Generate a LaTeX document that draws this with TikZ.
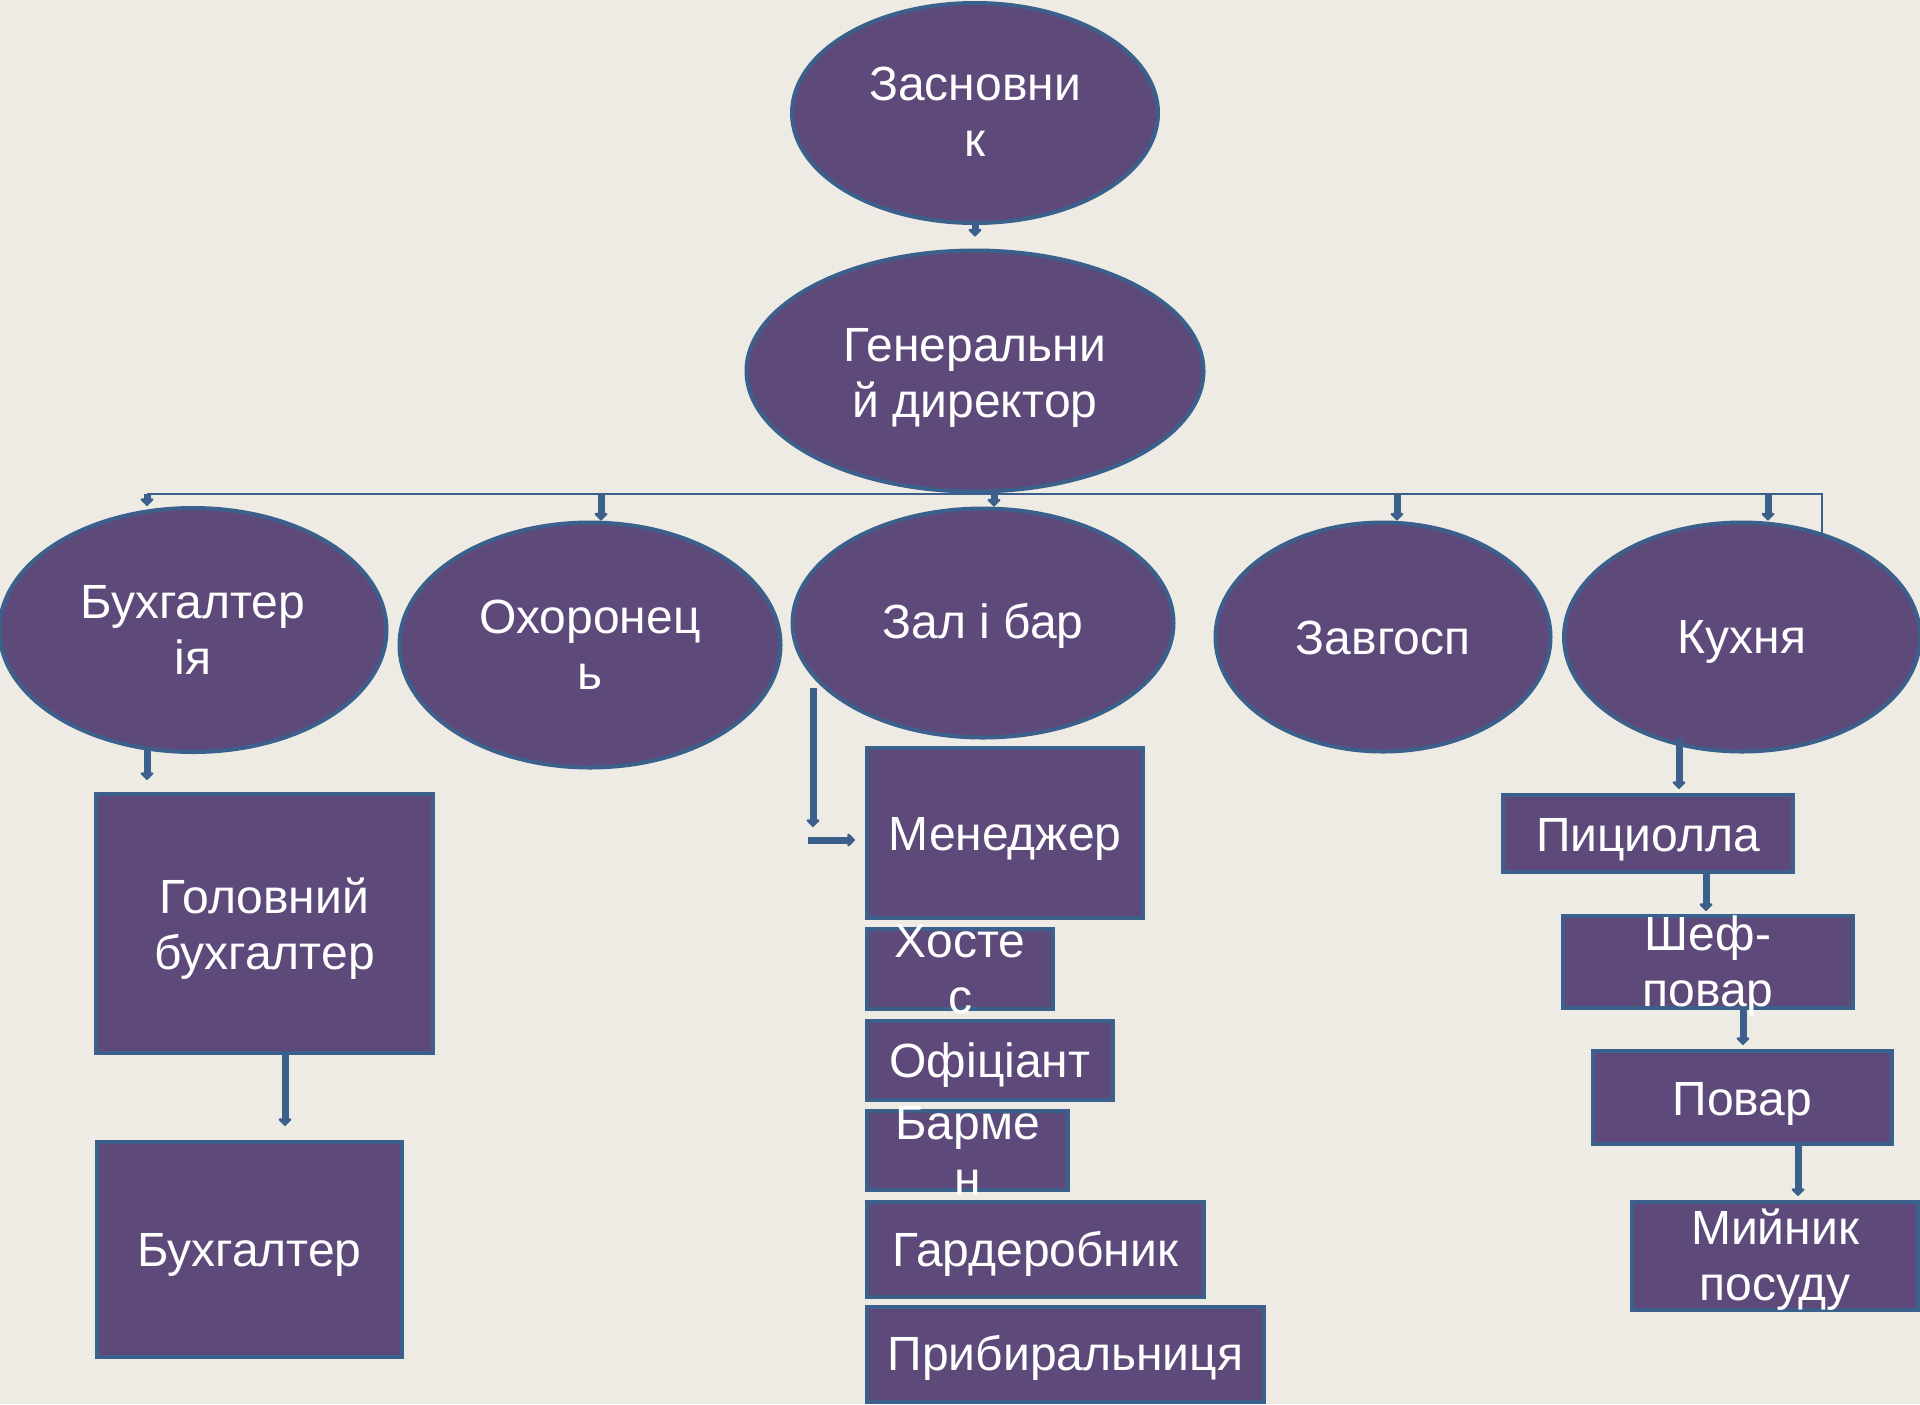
\documentclass[tikz,border=0pt]{standalone}
\usepackage{fontspec}
\setmainfont{Liberation Sans}
\usetikzlibrary{shapes.geometric,arrows.meta}

\definecolor{orgfill}{RGB}{94,74,122}
\definecolor{orgline}{RGB}{59,96,140}
\definecolor{paper}{RGB}{238,235,229}

\tikzset{
	unit/.style={ellipse,draw=orgline,line width=2pt,fill=orgfill,inner sep=0pt},
	post/.style={rectangle,draw=orgline,line width=2pt,fill=orgfill,inner sep=0pt},
	tag/.style={text=white,inner sep=0pt,align=center,font=\fontsize{24}{28}\selectfont},
	link/.style={draw=orgline,line width=3.5pt,-{Triangle[length=4pt,width=7.5pt,round]}},
	busline/.style={draw=orgline,line width=1pt}
}

\begin{document}
\begin{tikzpicture}[x=0.5pt,y=-0.5pt]
	\useasboundingbox (0,0) rectangle (1920,1404);
	\fill[paper] (0,0) rectangle (1920,1404);

	%Ellipses top
	\node[unit,minimum width=183pt,minimum height=110pt,label={[tag,yshift=0.5pt]center:Засновни\\к}] (zasn) at (975,113) {};
	\node[unit,minimum width=228.5pt,minimum height=120.5pt,label={[tag,yshift=-3.7pt]center:Генеральни\\й директор}] (gendir) at (975,371) {};

	%Ellipses second row
	\node[unit,minimum width=193.5pt,minimum height=122pt,label={[tag]center:Бухгалтер\\ія}] (buh) at (193,630) {};
	\node[unit,minimum width=190.5pt,minimum height=122.5pt,label={[tag]center:Охоронец\\ь}] (ohor) at (590,645) {};
	\node[unit,minimum width=190.5pt,minimum height=114.5pt,label={[tag,yshift=-1.2pt]center:Зал і бар}] (zal) at (983,623) {};
	\node[unit,minimum width=167.5pt,minimum height=114.5pt,label={[tag,yshift=-0.5pt]center:Завгосп}] (zavg) at (1383,637) {};
	\node[unit,minimum width=178pt,minimum height=114.5pt,label={[tag,yshift=-2.5pt]center:Кухня}] (kuh) at (1742,637) {};

	%Boxes accounting
	\node[post,minimum width=168.5pt,minimum height=129.5pt,label={[tag,yshift=-2.5pt]center:Головний\\бухгалтер}] (golbuh) at (264.5,923.5) {};
	\node[post,minimum width=152.5pt,minimum height=107.5pt,label={[tag,yshift=-2.5pt]center:Бухгалтер}] (buhg) at (249.5,1249.5) {};

	%Boxes hall
	\node[post,minimum width=138pt,minimum height=85pt,label={[tag,yshift=-3pt]center:Менеджер}] (men) at (1005,833) {};
	\node[post,minimum width=93pt,minimum height=40pt,label={[tag]center:Хосте\\с}] (host) at (960,969) {};
	\node[post,minimum width=123pt,minimum height=39.5pt,label={[tag,yshift=-2.5pt]center:Офіціант}] (ofic) at (990,1060.5) {};
	\node[post,minimum width=100.5pt,minimum height=39.5pt,label={[tag]center:Барме\\н}] (barm) at (967.5,1150.5) {};
	\node[post,minimum width=168.5pt,minimum height=47.5pt,label={[tag,yshift=-2pt]center:Гардеробник}] (gard) at (1035.5,1249.5) {};
	\node[post,minimum width=198.5pt,minimum height=47.5pt,label={[tag,yshift=-2pt]center:Прибиральниця}] (prib) at (1065.5,1354) {};

	%Boxes kitchen
	\node[post,minimum width=145pt,minimum height=38.5pt,label={[tag,yshift=-3pt]center:Пициолла}] (pic) at (1648,833.5) {};
	\node[post,minimum width=145pt,minimum height=46pt,label={[tag,yshift=-2pt]center:Шеф-\\повар}] (shef) at (1708,962) {};
	\node[post,minimum width=149.5pt,minimum height=46.5pt,label={[tag,yshift=-3pt]center:Повар}] (povar) at (1742.5,1097.5) {};
	\node[post,minimum width=143pt,minimum height=54pt,label={[tag,yshift=-2pt]center:Мийник\\посуду}] (myin) at (1775,1256) {};

	%Top arrow
	\draw[link,shorten >=6pt] (zasn.south) -- (zasn.south |- gendir.north);

	%Bus and drops
	\coordinate (dropB) at (147,494);
	\coordinate (dropO) at (601,494);
	\coordinate (dropZ) at (994,494);
	\coordinate (dropG) at (1397,494);
	\coordinate (dropK) at (1768,494);
	\coordinate (busEnd) at (1822,535);
	\draw[busline] (dropB) -- (dropK) -| (busEnd);
	\draw[link] (dropB) -- (dropB |- buh.north);
	\draw[link] (dropO) -- (dropO |- ohor.north);
	\draw[link] (dropZ) -- (dropZ |- zal.north);
	\draw[link] (dropG) -- (dropG |- zavg.north);
	\draw[link] (dropK) -- (dropK |- kuh.north);

	%Accounting arrows
	\coordinate (buhout) at (147,750);
	\coordinate (golout) at ([xshift=10.25pt]golbuh.south);
	\draw[link,shorten >=6pt] (buhout) -- (buhout |- golbuh.north);
	\draw[link,shorten >=7pt] (golout) -- (golout |- buhg.north);

	%Hall arrows
	\coordinate (zalA) at (813,688);
	\coordinate (zalB) at (808,840);
	\draw[link,shorten >=6.5pt] (zalA) -- (zalA |- zalB);
	\draw[link,shorten >=5pt] (zalB) -- (zalB -| men.west);

	%Kitchen arrows
	\coordinate (kuhout) at (1679,738);
	\coordinate (picout) at ([xshift=29pt]pic.south);
	\coordinate (shefout) at ([xshift=17.5pt]shef.south);
	\coordinate (povout) at ([xshift=27.75pt]povar.south);
	\draw[link,shorten >=2pt] (kuhout) -- (kuhout |- pic.north);
	\draw[link,shorten >=1.5pt] (picout) -- (picout |- shef.north);
	\draw[link,shorten >=2pt] (shefout) -- (shefout |- povar.north);
	\draw[link,shorten >=2pt] (povout) -- (povout |- myin.north);

\end{tikzpicture}
\end{document}
